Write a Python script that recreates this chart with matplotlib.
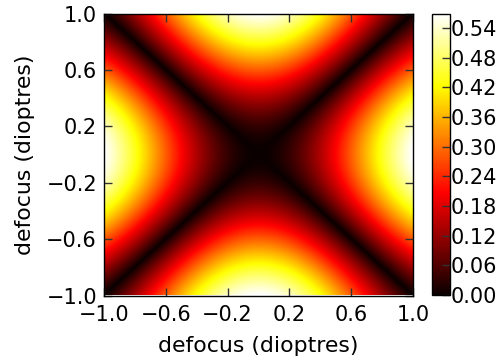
import numpy as np
import matplotlib
matplotlib.use("Agg")
import matplotlib.pyplot as plt

# ---- data ----
defocus_ticks = [-1.0, -0.6, -0.2, 0.2, 0.6, 1.0]
cbar_ticks = [0.00, 0.06, 0.12, 0.18, 0.24, 0.30, 0.36, 0.42, 0.48, 0.54]
peak_value = 0.568          # value at (±1, 0) and (0, ±1)
phase_scale = 1.2           # shape of the level curves
grid_size = 301

xs = np.linspace(-1.0, 1.0, grid_size)
ys = np.linspace(-1.0, 1.0, grid_size)
X, Y = np.meshgrid(xs, ys)
Z = peak_value * np.abs(np.sin(phase_scale * X) ** 2 - np.sin(phase_scale * Y) ** 2) \
    / np.sin(phase_scale) ** 2

TICK_FS = 15
LABEL_FS = 15.8
plt.rcParams['font.family'] = ['DejaVu Sans']
fig = plt.figure(figsize=(5.01, 3.60), dpi=100)
W, H = 501, 360
ax = fig.add_axes([104 / W, (H - 295.5) / H, 309 / W, 282 / H])
cax = fig.add_axes([431.5 / W, (H - 295) / H, 18 / W, 281 / H])

im = ax.imshow(Z, cmap='hot', origin='lower', extent=[-1, 1, -1, 1],
               aspect='auto', vmin=0, vmax=peak_value, interpolation='bilinear')
ax.set_xlim(-1, 1)
ax.set_ylim(-1, 1)
ax.set_xticks(defocus_ticks)
ax.set_yticks(defocus_ticks)
ax.set_xticklabels([f"{v:.1f}".replace('-', '\u2212') for v in defocus_ticks])
ax.set_yticklabels([f"{v:.1f}".replace('-', '\u2212') for v in defocus_ticks])
ax.tick_params(direction='in', top=True, right=True, length=6, width=1,
               color='#333333', labelsize=TICK_FS)
ax.tick_params(axis='x', pad=6.5)
ax.tick_params(axis='y', pad=5)
ax.set_xlabel('defocus (dioptres)', fontsize=LABEL_FS, labelpad=8)
ax.set_ylabel('defocus (dioptres)', fontsize=LABEL_FS, labelpad=8)
for s in ax.spines.values():
    s.set_linewidth(1.0)

cb = fig.colorbar(im, cax=cax, ticks=cbar_ticks)
cb.ax.set_yticklabels([f"{v:.2f}" for v in cbar_ticks])
cb.ax.tick_params(direction='in', length=6, width=1, color='#333333',
                  labelsize=TICK_FS, pad=1)
cb.outline.set_linewidth(1.0)

fig.savefig('out.png', dpi=100)
